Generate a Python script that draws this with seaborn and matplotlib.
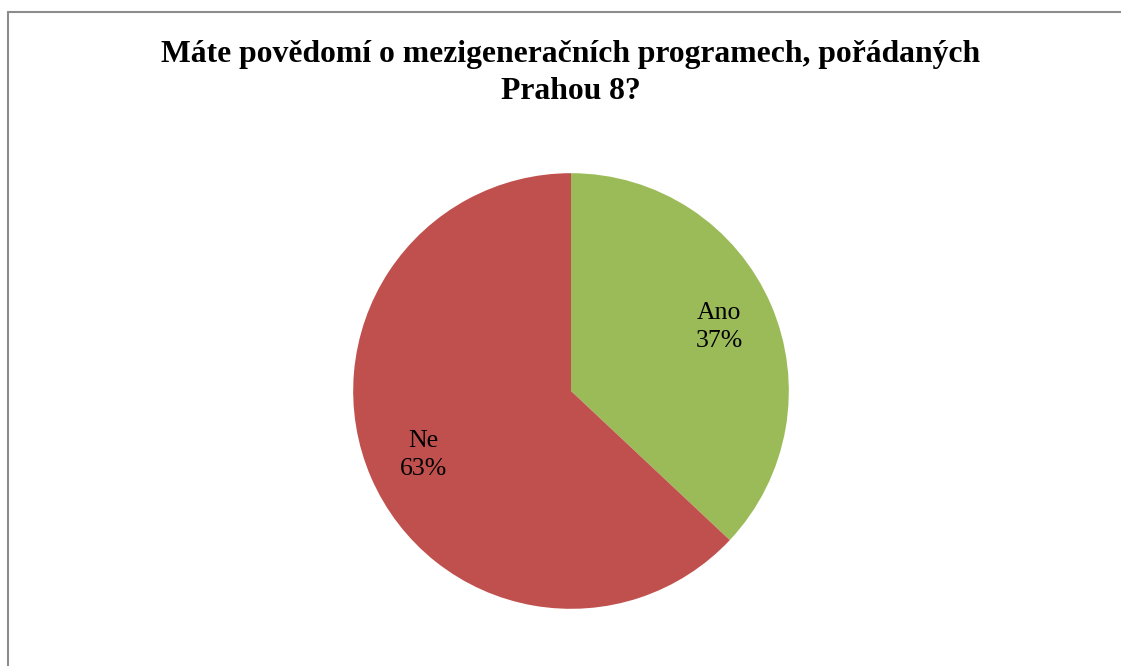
import seaborn as sns
import matplotlib
matplotlib.use('Agg')
import matplotlib.pyplot as plt
from matplotlib.lines import Line2D

labels = ['Ano', 'Ne']
shares = [37, 63]
colors = ['#9BBB59', '#C0504D']
title = 'Máte povědomí o mezigeneračních programech, pořádaných\nPrahou 8?'

sns.set_theme(style='white')
plt.rcParams['font.family'] = ['Liberation Serif', 'DejaVu Serif']
plt.rcParams['text.color'] = 'black'

fig = plt.figure(figsize=(11.21, 6.66), dpi=100)

# chart frame (only top and left edges visible in the crop)
fig.add_artist(Line2D([7.5 / 1121, 7.5 / 1121], [0, 1 - 11.5 / 666],
                      color='#8c8c8c', lw=1.5, transform=fig.transFigure))
fig.add_artist(Line2D([7.5 / 1121, 1], [1 - 11.5 / 666, 1 - 11.5 / 666],
                      color='#8c8c8c', lw=1.5, transform=fig.transFigure))

fig.text(571 / 1121, 1 - 73 / 666, title, ha='center', va='center',
         fontsize=22.8, fontweight='bold', linespacing=1.38, color='black')

w = 440 / 1121
h = 440 / 666
ax = fig.add_axes([571 / 1121 - w / 2, 1 - 391 / 666 - h / 2, w, h])

it = iter(labels)
ax.pie(shares, colors=colors, startangle=90, counterclock=False,
       autopct=lambda p: f'{next(it)}\n{p:.0f}%', pctdistance=0.74,
       wedgeprops={'linewidth': 0},
       textprops={'fontsize': 18.5, 'color': 'black', 'linespacing': 1.4})
ax.set_xlim(-1.01, 1.01)
ax.set_ylim(-1.01, 1.01)
ax.set_aspect('equal')

fig.savefig('out.png', dpi=100)
